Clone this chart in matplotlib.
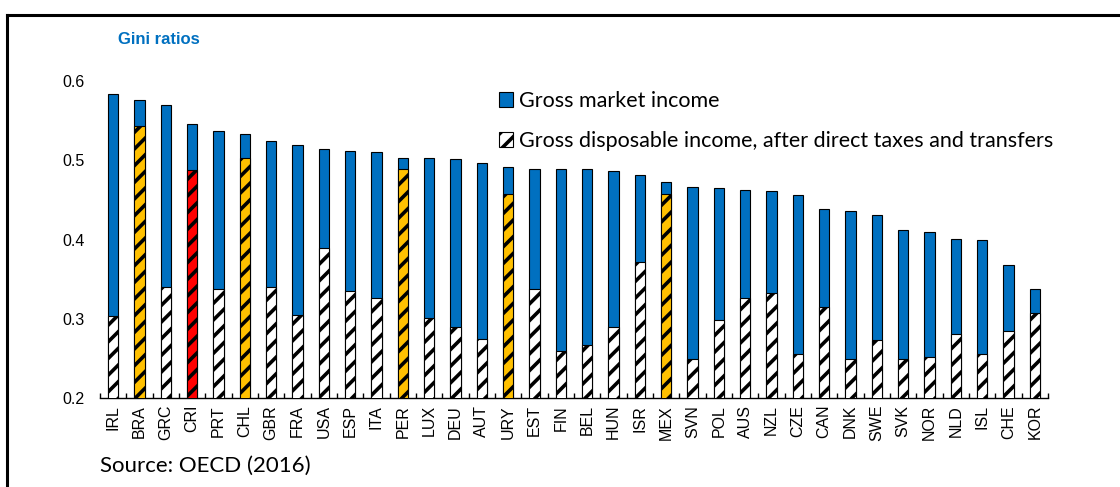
import matplotlib
matplotlib.use("Agg")
import matplotlib.pyplot as plt
from matplotlib.patches import Patch
from matplotlib.lines import Line2D
import numpy as np

countries = ["IRL", "BRA", "GRC", "CRI", "PRT", "CHL", "GBR", "FRA", "USA", "ESP",
             "ITA", "PER", "LUX", "DEU", "AUT", "URY", "EST", "FIN", "BEL", "HUN",
             "ISR", "MEX", "SVN", "POL", "AUS", "NZL", "CZE", "CAN", "DNK", "SWE",
             "SVK", "NOR", "NLD", "ISL", "CHE", "KOR"]
market = [0.583, 0.576, 0.570, 0.546, 0.537, 0.533, 0.524, 0.519, 0.514, 0.512,
          0.510, 0.503, 0.503, 0.501, 0.496, 0.492, 0.489, 0.489, 0.489, 0.486,
          0.482, 0.472, 0.466, 0.465, 0.463, 0.461, 0.456, 0.438, 0.436, 0.431,
          0.412, 0.410, 0.401, 0.400, 0.368, 0.338]
disposable = [0.303, 0.543, 0.340, 0.488, 0.338, 0.503, 0.340, 0.305, 0.389, 0.335,
              0.326, 0.489, 0.301, 0.289, 0.275, 0.457, 0.338, 0.259, 0.267, 0.289,
              0.371, 0.457, 0.249, 0.298, 0.326, 0.333, 0.256, 0.315, 0.249, 0.273,
              0.249, 0.252, 0.281, 0.256, 0.284, 0.307]
latam = ["BRA", "CHL", "PER", "URY", "MEX"]
costa_rica = ["CRI"]

BLUE = "#0070C0"
GOLD = "#FFC000"
RED = "#FF0000"

plt.rcParams['hatch.linewidth'] = 2.6
plt.rcParams['font.family'] = ['Liberation Sans', 'DejaVu Sans']

W, H = 1120, 487
fig = plt.figure(figsize=(W / 100, H / 100), dpi=100)
ax = fig.add_axes([100 / W, 1 - 398 / H, 948 / W, 317 / H])

x = np.arange(len(countries))
disp_colors = [GOLD if c in latam else RED if c in costa_rica else "white" for c in countries]

ax.bar(x, market, width=0.4, color=BLUE, edgecolor="black", linewidth=0.8, zorder=2)
ax.bar(x, disposable, width=0.4, color=disp_colors, edgecolor="black", linewidth=0.8,
       hatch="//", zorder=3)

ax.set_xlim(-0.5, len(countries) - 0.5)
ax.set_ylim(0.2, 0.6)
ax.set_yticks([0.2, 0.3, 0.4, 0.5, 0.6])
ax.set_yticklabels(["0.2", "0.3", "0.4", "0.5", "0.6"])
ax.tick_params(axis="y", length=0, pad=11, labelsize=11.5)

ax.set_xticks(x)
ax.set_xticklabels(countries, rotation=90)
ax.tick_params(axis="x", which="major", length=0, pad=5, labelsize=11.5)
ax.set_xticks(np.arange(len(countries) + 1) - 0.5, minor=True)
ax.tick_params(axis="x", which="minor", direction="in", length=3.6, width=1)

for s in ["left", "top", "right"]:
    ax.spines[s].set_visible(False)
ax.spines["bottom"].set_linewidth(1)

handles = [Patch(facecolor=BLUE, edgecolor="black", linewidth=0.8),
           Patch(facecolor="white", edgecolor="black", linewidth=0.8, hatch="//")]
labels = ["Gross market income",
          "Gross disposable income, after direct taxes and transfers"]
ax.legend(handles, labels, loc="upper left", bbox_to_anchor=(499 / W, 1 - 91 / H),
          bbox_transform=fig.transFigure, frameon=False, borderpad=0, borderaxespad=0,
          handlelength=0.65, handleheight=0.65, handletextpad=0.28, labelspacing=0.94,
          prop={"family": "Lato", "size": 15.5})

fig.text(118 / W, 1 - 40 / H, "Gini ratios", color=BLUE, fontweight="bold",
         fontsize=12, va="center", ha="left")
fig.text(100 / W, 1 - 466 / H, "Source: OECD (2016)", family="Lato", fontsize=16,
         va="center", ha="left")

# frame lines (top and left) around the panel
fig.add_artist(Line2D([7 / W, 1], [1 - 15 / H, 1 - 15 / H], color="black", linewidth=2.2))
fig.add_artist(Line2D([7 / W, 7 / W], [0, 1 - 15 / H], color="black", linewidth=2.2))

fig.savefig("out.png", dpi=100)
